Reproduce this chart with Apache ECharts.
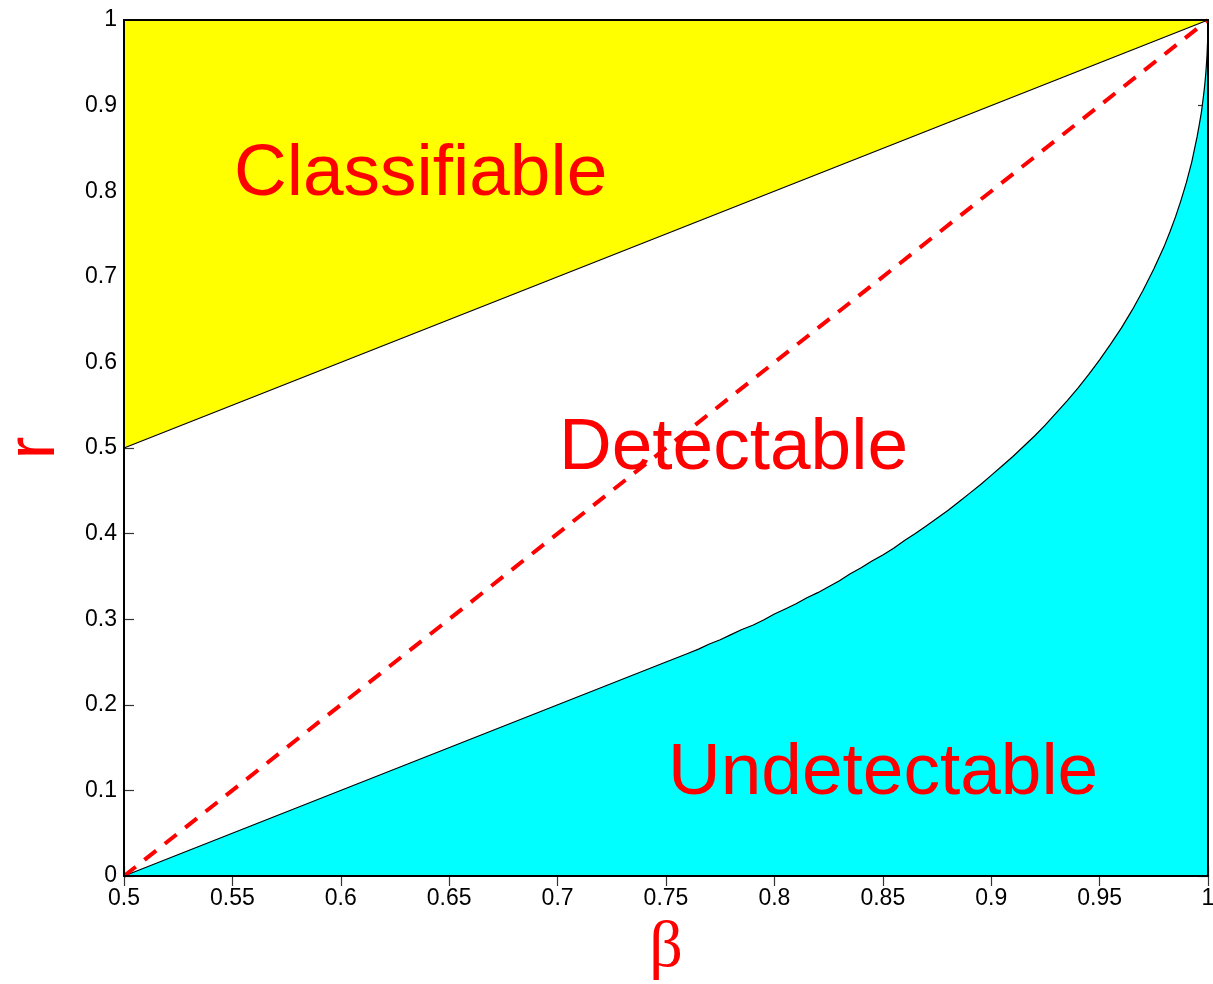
<!DOCTYPE html>
<html>
<head>
<meta charset="utf-8">
<style>
  html, body { margin: 0; padding: 0; background: #fff; }
  #chart { width: 1213px; height: 984px; }
</style>
<script src="https://cdn.jsdelivr.net/npm/echarts@6/dist/echarts.min.js"></script>
</head>
<body>
<div id="chart"></div>
<script>
// Upper boundary: classification line from (0.5, 0.5) to (1, 1)
const betaUpper = [0.5, 1.0];
const rUpper = [0.5, 1.0];

// Lower boundary: detection curve (straight up to 0.75, then bending up to 1)
const betaLower = [0.5, 0.75, 0.755, 0.76, 0.765, 0.77, 0.775, 0.78, 0.785, 0.79, 0.795,
  0.80, 0.805, 0.81, 0.815, 0.82, 0.825, 0.83, 0.835, 0.84, 0.845, 0.85, 0.855, 0.86, 0.865,
  0.87, 0.875, 0.88, 0.885, 0.89, 0.895, 0.90, 0.905, 0.91, 0.915, 0.92, 0.925, 0.93, 0.935,
  0.94, 0.945, 0.95, 0.955, 0.96, 0.965, 0.97, 0.975, 0.98, 0.9825, 0.985, 0.9875, 0.99,
  0.9925, 0.995, 0.996, 0.997, 0.998, 0.9985, 0.999, 0.9995, 0.9999, 1.0];
const rLower = [0.0, 0.250, 0.255, 0.260, 0.265, 0.271, 0.276, 0.282, 0.288, 0.293, 0.299,
  0.306, 0.312, 0.318, 0.325, 0.331, 0.338, 0.345, 0.353, 0.360, 0.368, 0.375, 0.383, 0.392, 0.400,
  0.409, 0.418, 0.427, 0.437, 0.447, 0.457, 0.468, 0.479, 0.490, 0.502, 0.514, 0.527, 0.541, 0.555,
  0.570, 0.586, 0.603, 0.621, 0.640, 0.661, 0.684, 0.709, 0.737, 0.753, 0.770, 0.789, 0.810,
  0.834, 0.864, 0.878, 0.893, 0.913, 0.924, 0.938, 0.956, 0.980, 1.0];

// Dashed diagonal from (0.5, 0) to (1, 1)
const betaDiag = [0.5, 1.0];
const rDiag = [0.0, 1.0];

// Region labels
const regionLabels = ['Classifiable', 'Detectable', 'Undetectable'];

const zip = (xs, ys) => xs.map((x, i) => [x, ys[i]]);

const chart = echarts.init(document.getElementById('chart'), null, { renderer: 'canvas' });

const tickFont = { color: '#000', fontSize: 23, fontFamily: 'Liberation Sans, Arial, sans-serif' };
const tickStyle = { show: true, inside: true, length: 10, lineStyle: { color: '#333', width: 1.2 } };

const option = {
  animation: false,
  backgroundColor: '#fff',
  grid: {
    left: 124, right: 5, top: 20, bottom: 108,
    outerBoundsMode: 'none', containLabel: false,
    show: true, z: 10, borderColor: '#000', borderWidth: 2, backgroundColor: 'transparent'
  },
  xAxis: [{
    type: 'value', min: 0.5, max: 1, interval: 0.05, position: 'bottom',
    splitLine: { show: false },
    axisLine: { show: true, onZero: false, lineStyle: { color: '#000', width: 1.5 } },
    axisTick: tickStyle,
    axisLabel: Object.assign({ margin: 11 }, tickFont),
    name: 'β', nameLocation: 'middle', nameGap: 40,
    nameTextStyle: { color: '#ff0000', fontSize: 66, fontFamily: 'Liberation Serif, DejaVu Serif, serif' }
  }, {
    type: 'value', min: 0.5, max: 1, interval: 0.05, position: 'top',
    splitLine: { show: false },
    axisLine: { show: false },
    axisTick: tickStyle,
    axisLabel: { show: false }
  }],
  yAxis: [{
    type: 'value', min: 0, max: 1, interval: 0.1, position: 'left',
    splitLine: { show: false },
    axisLine: { show: true, onZero: false, lineStyle: { color: '#000', width: 1.5 } },
    axisTick: tickStyle,
    axisLabel: Object.assign({ margin: 7 }, tickFont),
    name: 'r', nameLocation: 'middle', nameGap: 55, nameRotate: 90,
    nameTextStyle: { color: '#ff0000', fontSize: 68, fontFamily: 'Liberation Sans, Arial, sans-serif' }
  }, {
    type: 'value', min: 0, max: 1, interval: 0.1, position: 'right',
    splitLine: { show: false },
    axisLine: { show: false },
    axisTick: tickStyle,
    axisLabel: { show: false }
  }],
  series: [
    {
      // yellow region above the upper boundary
      type: 'line', data: zip(betaUpper, rUpper), symbol: 'none', z: 2,
      lineStyle: { color: '#000', width: 1.2 },
      areaStyle: { color: '#ffff00', opacity: 1, origin: 'end' }
    },
    {
      // cyan region below the lower boundary
      type: 'line', data: zip(betaLower, rLower), symbol: 'none', z: 3,
      lineStyle: { color: '#000', width: 1.2 },
      areaStyle: { color: '#00ffff', opacity: 1, origin: 'start' }
    },
    {
      type: 'line', data: zip(betaDiag, rDiag), symbol: 'none', z: 4,
      lineStyle: { color: '#ff0000', width: 4, type: [15, 11] }
    }
  ],
  graphic: [
    { type: 'text', z: 20, style: { x: 234, y: 175, text: regionLabels[0], fill: '#ff0000',
      font: '73px "Liberation Sans", Arial, sans-serif', verticalAlign: 'middle' } },
    { type: 'text', z: 20, style: { x: 559, y: 449, text: regionLabels[1], fill: '#ff0000',
      font: '73px "Liberation Sans", Arial, sans-serif', verticalAlign: 'middle' } },
    { type: 'text', z: 20, style: { x: 668, y: 774, text: regionLabels[2], fill: '#ff0000',
      font: '73px "Liberation Sans", Arial, sans-serif', verticalAlign: 'middle' } }
  ]
};

chart.setOption(option);
</script>
</body>
</html>
